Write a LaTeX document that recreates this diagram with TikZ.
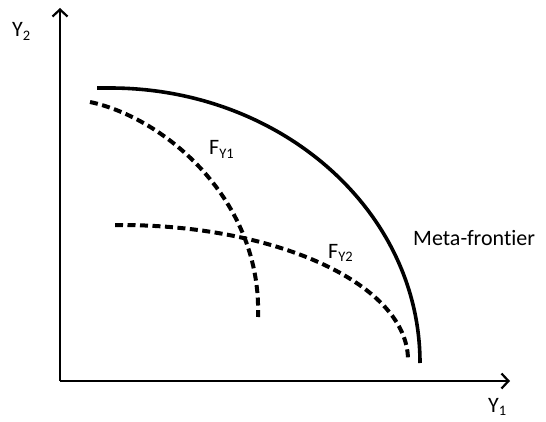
\documentclass[tikz,border=0pt]{standalone}
\usepackage{fontspec}
\setmainfont[Ligatures={NoCommon}]{Carlito}
\usepackage{tikz}
\usetikzlibrary{arrows.meta,positioning}
\newcommand{\lowsub}[1]{\raisebox{-3.5pt}{\fontsize{14.5}{16}\selectfont #1}}
\tikzset{
  axisarrow/.style={-{Straight Barb[length=7pt,width=15pt,line width=2.2pt]}, line width=2.2pt, draw=black},
  metafrontier/.style={line width=3.6pt, draw=black},
  groupfrontier/.style={line width=4pt, draw=black, dash pattern=on 8pt off 4.5pt},
  axislabel/.style={font=\fontsize{22}{26}\selectfont, inner sep=0pt, anchor=base west},
}

\begin{document}
\begin{tikzpicture}[x=1pt,y=1pt]
\path[use as bounding box] (0,0) rectangle (546,421);
\fill[white] (0,0) rectangle (546,421);

% axes
\coordinate (origin) at (60,40);
\coordinate (ytip) at (60,413);
\coordinate (xtip) at (510,40);
\draw[axisarrow] (origin) -- (ytip);
\draw[axisarrow] (origin) -- (xtip);
\node[axislabel] (y2label) at (12,384) {Y\lowsub{2}};
\node[axislabel] (y1label) at (488,9) {Y\lowsub{1}};

% meta-frontier
\draw[metafrontier] (97,333) -- (110,333) arc[start angle=90,end angle=0,x radius=310pt,y radius=275pt];
\node[axislabel] (metalabel) at (413,176) {Meta-frontier};

% group frontiers
\draw[groupfrontier] (90,319) .. controls (165,303) and (262,221) .. (258,104);
\draw[groupfrontier] (115,196) -- (120,196) arc[start angle=90,end angle=0,x radius=288pt,y radius=135pt];
\node[axislabel] (fy1label) at (209,266) {F\lowsub{Y1}};
\node[axislabel] (fy2label) at (328,163) {F\lowsub{Y2}};
\end{tikzpicture}
\end{document}
